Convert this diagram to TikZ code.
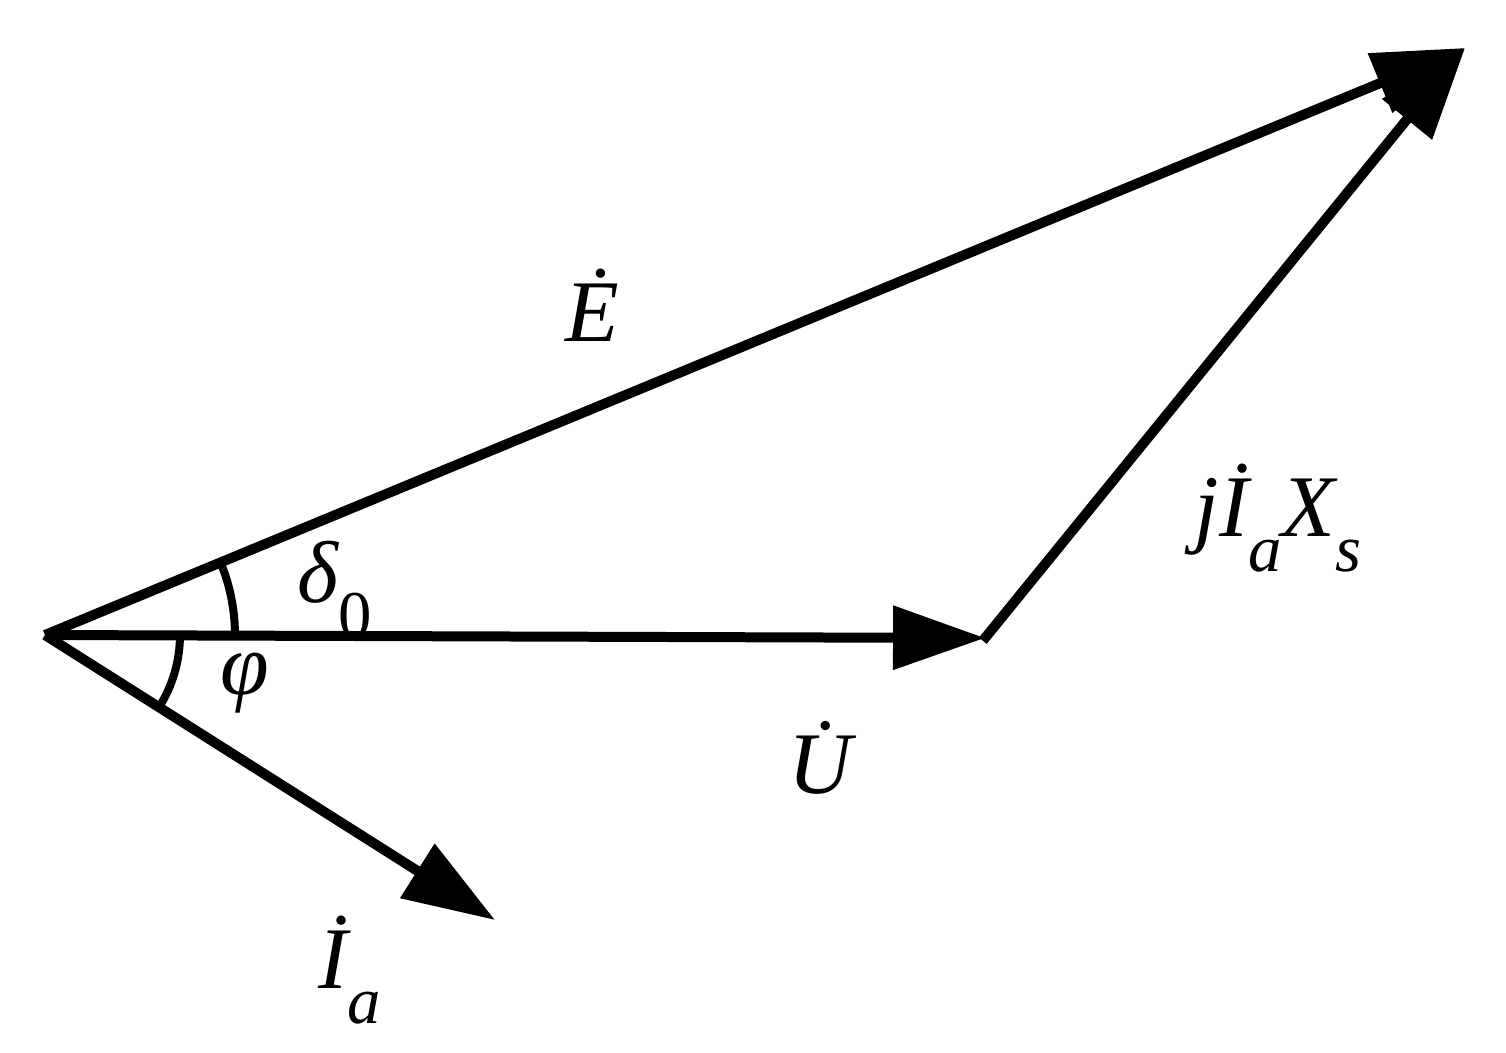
\documentclass[tikz,border=0pt]{standalone}
\usepackage{fontspec}
\setmainfont{Liberation Serif}
\usetikzlibrary{arrows.meta}
\newcommand{\sbs}[1]{\raisebox{-0.4em}{\fontsize{38}{40}\selectfont #1}}
\begin{document}
\begin{tikzpicture}[x=0.02cm,y=-0.02cm,
  vec/.style={line width=0.2cm,-{Triangle[length=1.84cm,width=1.24cm]}},
  lab/.style={font=\fontsize{50}{60}\selectfont\itshape},
  arcst/.style={line width=0.16cm}]
\useasboundingbox (0,0) rectangle (1506,1052);
\coordinate (O) at (45,635);
\coordinate (U) at (985,638);
\coordinate (E) at (1465,48);
\coordinate (I) at (495,920);
\draw[vec] (O) -- (U);
\draw[vec] (O) -- (E);
\draw[vec,shorten <=-2pt] (U) -- (E);
\draw[vec] (O) -- (I);
\draw[arcst] (O) ++(3.8cm,0) arc[start angle=0,end angle=22.5,radius=3.8cm];
\draw[arcst] (O) ++(2.7cm,0) arc[start angle=0,end angle=-32.3,radius=2.7cm];
\node[lab] (lE) at (592,305) {\.{E}};
\node[lab] (ld) at (335,590) {δ\sbs{\upshape 0}};
\node[lab] (lp) at (245,683) {φ};
\node[lab] (lU) at (820,758) {\.{U}};
\node[lab] (lI) at (350,970) {\.{I}\sbs{a}};
\node[lab] (lj) at (1278,518) {j\.{I}\sbs{a}X\sbs{s}};
\end{tikzpicture}
\end{document}
